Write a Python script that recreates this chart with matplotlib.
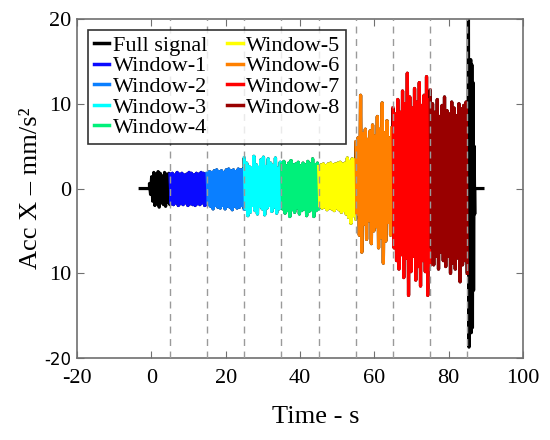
import numpy as np
import matplotlib
matplotlib.use('Agg')
import matplotlib.pyplot as plt

plt.rcParams['font.family'] = ['Liberation Serif', 'DejaVu Serif']
plt.rcParams['axes.unicode_minus'] = False

# window edges (s) and legend names
edges = [5, 15, 25, 35, 45, 55, 65, 75, 85]
names = ['Window-1', 'Window-2', 'Window-3', 'Window-4',
         'Window-5', 'Window-6', 'Window-7', 'Window-8']
colors = ['#0a0aff', '#0a7fff', '#00ffff', '#00f07a',
          '#ffff00', '#ff8000', '#ff0000', '#990000']

# quiet part before the event
pre_t = [-3.0, -0.5]
pre_v = [0.0, 0.0]

# onset (black, -0.5..5 s): positive and negative peaks
lead_up = [0.6, 1.4, 1.9, 1.7, 2.0, 1.8, 1.5, 1.9, 1.7, 1.8]
lead_dn = [-0.7, -1.5, -2.0, -1.8, -2.2, -1.7, -1.9, -2.1, -1.6, -1.9]

# peaks for each 10 s window
win_up = [
    [1.7, 1.8, 1.6, 1.9, 1.7, 1.8, 1.6, 1.7, 1.9, 1.8, 1.6, 1.8, 1.7, 1.9, 1.8, 1.7],
    [1.8, 2.0, 1.9, 2.1, 2.2, 2.0, 2.1, 1.9, 2.2, 2.3, 2.1, 2.2, 2.0, 2.3, 2.2, 2.3],
    [3.6, 3.0, 2.6, 2.4, 3.8, 2.8, 2.5, 3.4, 3.7, 2.6, 3.5, 3.0, 2.7, 3.6, 2.4, 3.1],
    [2.9, 3.2, 2.7, 3.0, 3.3, 2.8, 2.9, 3.1, 2.7, 3.0, 2.8, 3.2, 2.9, 3.5, 2.8, 3.0],
    [2.6, 2.8, 2.9, 2.7, 2.9, 3.0, 2.8, 2.9, 3.0, 3.1, 2.9, 3.0, 3.6, 3.2, 3.5, 3.4],
    [5.5, 6.0, 11.0, 6.5, 7.0, 5.8, 6.8, 7.5, 6.2, 8.5, 7.0, 10.1, 6.6, 8.0, 6.0, 7.2],
    [9.5, 8.8, 10.5, 9.0, 11.5, 10.0, 13.6, 10.8, 9.5, 11.8, 10.2, 12.5, 9.8, 11.0, 13.2, 10.5],
    [11.6, 10.0, 9.0, 10.5, 8.5, 9.8, 10.8, 9.2, 8.8, 10.2, 9.5, 8.6, 10.0, 9.4, 9.8, 10.2],
]
win_dn = [
    [-1.8, -1.9, -1.7, -2.0, -1.8, -1.9, -1.7, -2.0, -1.8, -1.9, -2.0, -1.8, -1.9, -1.7, -2.0, -1.9],
    [-1.9, -2.1, -2.4, -2.0, -2.2, -2.3, -2.0, -2.4, -2.1, -2.2, -2.5, -2.1, -2.3, -2.2, -2.0, -2.4],
    [-2.4, -3.2, -2.8, -2.0, -2.6, -3.0, -2.1, -2.4, -3.1, -2.3, -2.0, -2.7, -2.2, -2.9, -2.4, -2.1],
    [-2.4, -2.9, -2.6, -3.3, -2.5, -2.8, -2.3, -3.0, -2.6, -2.4, -3.2, -2.7, -2.5, -3.3, -2.6, -2.4],
    [-2.1, -2.3, -2.2, -2.5, -2.3, -2.4, -2.6, -2.3, -2.5, -2.8, -2.6, -3.0, -3.4, -4.1, -3.2, -3.6],
    [-3.0, -5.5, -7.5, -4.2, -6.0, -3.8, -6.5, -5.0, -4.5, -7.0, -5.8, -8.8, -6.2, -4.0, -5.5, -3.5],
    [-7.0, -8.5, -9.5, -7.8, -10.5, -8.2, -12.6, -9.8, -8.0, -10.8, -9.2, -11.5, -8.5, -9.8, -12.6, -9.0],
    [-7.0, -9.0, -8.0, -9.5, -7.5, -8.5, -9.2, -8.0, -10.0, -8.8, -9.5, -8.2, -11.0, -9.0, -8.5, -10.0],
]

# final burst (black, 85..87 s) and quiet tail
end_up = [4.0, 20.5, 14.0, 15.2, 14.6, 12.5, 5.0]
end_dn = [-5.0, -18.7, -16.0, -17.0, -16.4, -12.0, -3.0]
end_t1 = 87.0
post_t = [87.0, 89.2]
post_v = [0.0, 0.0]


def zigzag(t0, t1, up, dn):
    vals = np.ravel(np.column_stack([up, dn]))
    t = np.linspace(t0, t1, len(vals))
    return t, vals


fig = plt.figure(figsize=(5.5, 4.4), dpi=100)
ax = fig.add_axes([0.14, 0.186, 0.811, 0.771])

segs = [(np.array(pre_t), np.array(pre_v))]
segs.append(zigzag(pre_t[1], edges[0], lead_up, lead_dn))
win_segs = []
for i in range(len(names)):
    s = zigzag(edges[i], edges[i + 1], win_up[i], win_dn[i])
    win_segs.append(s)
    segs.append(s)
segs.append(zigzag(edges[-1], end_t1, end_up, end_dn))
segs.append((np.array(post_t), np.array(post_v)))

full_t = np.concatenate([s[0] for s in segs])
full_v = np.concatenate([s[1] for s in segs])

ax.plot(full_t, full_v, color='black', lw=2.3, label='Full signal', zorder=2)
for (t, v), c, n in zip(win_segs, colors, names):
    ax.plot(t, v, color=c, lw=2.3, label=n, zorder=3)

for e in edges:
    ax.axvline(e, color='#9a9a9a', lw=1.0, ls=(0, (5, 4)), zorder=4)

ax.set_xlim(-20, 100)
ax.set_ylim(-20, 20)
ax.set_xticks([-20, 0, 20, 40, 60, 80, 100])
ax.set_yticks([-20, -10, 0, 10, 20])
ax.set_yticklabels(['-20', '10', '0', '10', '20'])
ax.tick_params(direction='in', length=5, color='#707070', labelsize=16,
               top=True, right=True, pad=4)
ax.tick_params(axis='x', pad=8)
ylab = ax.get_yticklabels()
ylab[0].set_fontsize(12)
ylab[0].set_family('DejaVu Sans')
for sp in ax.spines.values():
    sp.set_color('#707070')
    sp.set_linewidth(1.2)

ax.set_xlabel('Time - s', fontsize=19)
ax.xaxis.set_label_coords(0.536, -0.14)
ax.set_ylabel('Acc X – mm/s²', fontsize=19, labelpad=2)

leg = ax.legend(loc='upper left', bbox_to_anchor=(0.025, 0.968), ncol=2,
                fontsize=16, frameon=True, fancybox=False, borderaxespad=0,
                handlelength=0.7, handletextpad=0.15, columnspacing=0.9,
                labelspacing=0.0, borderpad=0.25)
leg.get_frame().set_edgecolor('black')
leg.get_frame().set_linewidth(1.2)
for h in leg.get_lines():
    h.set_linewidth(2.5)

fig.savefig('out.png', dpi=100)
